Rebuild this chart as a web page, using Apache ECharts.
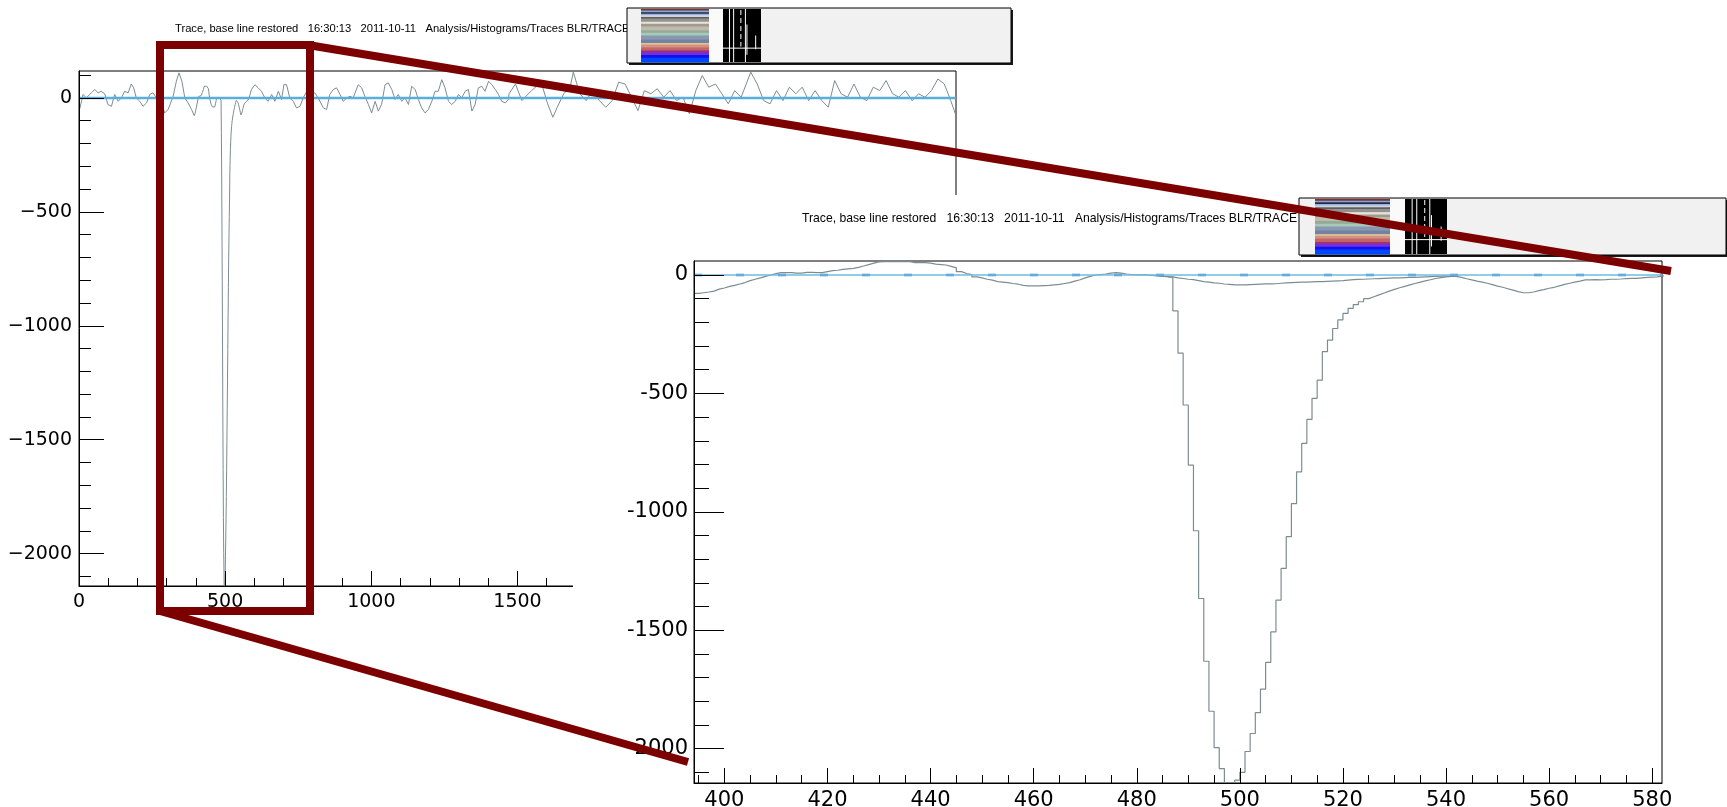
<!DOCTYPE html>
<html>
<head>
<meta charset="utf-8">
<title>Trace, base line restored</title>
<script src="https://cdn.jsdelivr.net/npm/echarts@6/dist/echarts.min.js"></script>
<style>
  html, body { margin: 0; padding: 0; background: #ffffff; }
  #chart { width: 1727px; height: 807px; }
</style>
</head>
<body>
<div id="chart"></div>
<script>
// ---- Trace samples (x = sample index, y = ADC counts after base line restoration) ----
// Overview samples before the magnified window
const traceBefore = [
  [2,-51],[14,15],[25,0],[42,22],[54,37],[65,22],[76,29],[88,18],[99,-29],[111,-37],
  [122,15],[134,-15],[145,0],[156,29],[168,22],[179,61],[187,44],[196,0],[208,-15],[219,-37],
  [231,-22],[242,15],[253,22],[265,0],[276,-15],[288,-44],[293,-66],[305,-51],[322,7],[333,73],
  [342,110],[352,73],[362,0],[373,-22],[385,-51]
];

// Bin-by-bin values inside the magnified window, starting at sample 394
const fineStart = 394;
const fineValues = [
  -78,-75,-72,-68,-60,-55,-48,-44,-38,-32,
  -24,-18,-12,-6,0,6,10,10,10,8,
  8,11,11,10,10,14,18,20,24,26,
  28,32,38,44,50,55,56,57,56,56,
  57,56,52,52,52,50,46,44,42,36,
  30,14,6,2,-8,-12,-18,-22,-28,-30,
  -32,-36,-39,-44,-46,-46,-46,-45,-44,-42,
  -40,-36,-32,-26,-20,-12,-6,0,2,4,
  8,10,8,4,2,0,0,0,-2,-4,
  -6,-7,-10,-152,-330,-549,-803,-1080,-1366,-1631,
  -1842,-1996,-2084,-2190,-2230,-2133,-2100,-2012,-1936,-1848,
  -1749,-1636,-1507,-1373,-1239,-1105,-965,-831,-711,-610,
  -521,-444,-324,-275,-226,-190,-162,-141,-125,-113,
  -100,-92,-84,-76,-68,-61,-54,-48,-42,-36,
  -30,-25,-20,-15,-11,-8,-6,-6,-10,-16,
  -21,-26,-30,-35,-41,-47,-52,-58,-64,-70,
  -75,-75,-72,-66,-62,-56,-52,-46,-40,-35,
  -30,-26,-21,-21,-20,-21,-20,-18,-18,-17,
  -15,-14,-14,-12,-10,-9,-8,-4,0
];

// Overview samples after the magnified window
const traceAfter = [
  [590,37],[602,58],[613,44],[624,29],[636,0],[647,-15],[659,15],[670,-15],[682,29],[693,-7],
  [701,58],[710,58],[721,0],[733,-15],[744,-44],[756,-37],[767,0],[779,29],[790,15],[807,22],
  [818,0],[836,-44],[847,-51],[858,15],[870,37],[881,44],[893,15],[904,-15],[916,0],[927,7],
  [938,0],[955,58],[967,44],[978,7],[990,-29],[1001,-66],[1013,-15],[1024,-58],[1035,-29],[1047,58],
  [1058,66],[1070,37],[1081,-7],[1092,15],[1104,-15],[1115,0],[1127,-29],[1138,51],[1150,37],[1161,-7],
  [1172,-44],[1184,-66],[1195,-51],[1207,-15],[1218,29],[1229,29],[1241,80],[1252,44],[1264,-15],[1275,-29],
  [1287,-15],[1298,15],[1309,0],[1321,29],[1332,37],[1344,-58],[1355,-29],[1366,44],[1378,51],[1389,29],
  [1401,73],[1412,58],[1424,37],[1435,15],[1446,-15],[1458,-22],[1469,-7],[1471,18],[1493,61],[1515,-12],
  [1548,32],[1581,69],[1603,-26],[1621,-85],[1636,-41],[1658,18],[1680,47],[1691,113],[1713,18],[1735,-12],
  [1757,32],[1780,-12],[1802,-41],[1824,-12],[1846,69],[1868,61],[1890,3],[1912,-56],[1934,32],[1956,18],
  [1978,40],[2000,3],[2022,32],[2044,-12],[2066,3],[2088,-70],[2110,32],[2132,98],[2154,47],[2177,61],
  [2199,18],[2221,-26],[2243,32],[2265,3],[2298,113],[2320,61],[2342,-12],[2364,-26],[2386,32],[2408,-12],
  [2430,47],[2452,18],[2474,47],[2496,-12],[2518,32],[2541,-12],[2563,-41],[2585,76],[2607,18],[2629,3],
  [2651,61],[2673,3],[2695,-12],[2717,47],[2739,32],[2761,76],[2783,18],[2805,3],[2827,32],[2850,-12],
  [2872,18],[2894,3],[2916,32],[2938,83],[2960,61],[2982,-12],[3000,-78]
];

// Restored base line underneath the pulse, starting at sample 486
const restoredStart = 486;
const restoredValues = [
  -8,-12,-15,-18,-20,-24,-28,-30,-33,-35,
  -38,-40,-42,-42,-42,-41,-40,-39,-38,-38,
  -37,-35,-33,-32,-31,-30,-30,-29,-28,-28,
  -27,-26,-25,-24,-22,-20,-19,-18,-17,-16,
  -15,-14,-13,-12,-12,-11,-10,-10,-9,-8,
  -7,-6,-5,-5,-5,-6
];

// Axis ranges and tick labels
const overviewX = { min: 0, max: 3000 };
const overviewY = { min: -2142, max: 118 };
const zoomX = { min: 394.1, max: 581.9 };
const zoomY = { min: -2145, max: 59 };
const overviewXLabels = [0, 500, 1000, 1500, 2000, 2500, 3000];
const overviewYLabels = [-2000, -1500, -1000, -500, 0];
const zoomXLabels = [400, 420, 440, 460, 480, 500, 520, 540, 560, 580];
const zoomYLabels = [-2000, -1500, -1000, -500, 0];

const titleText = 'Trace, base line restored   16:30:13   2011-10-11   Analysis/Histograms/Traces BLR/TRACE';

// ---- Build series data ----
const fineData = fineValues.map((v, i) => [fineStart + i, v]);
const traceData = traceBefore.concat(fineData, traceAfter);
const restoredData = restoredValues.map((v, i) => [restoredStart + i, v]);

function minorTicks(from, to, step, majors) {
  const out = [];
  for (let v = from; v <= to + 1e-9; v += step) {
    if (!majors.includes(v)) out.push(v);
  }
  return out;
}

const traceColor = '#7c8d92';
const axisFont = 'DejaVu Sans';
const plainNumber = v => String(v);
const minusNumber = v => (v < 0 ? '\u2212' + Math.abs(v) : String(v));

function xAxes(grid, range, majors, labels, minors, majLen, minLen, fontSize, zl) {
  return [
    {
      type: 'value', gridIndex: grid, position: 'bottom', min: range.min, max: range.max,
      zlevel: zl, z: 5,
      axisLine: { show: true, onZero: false, lineStyle: { color: '#000', width: 1 } },
      axisTick: { show: true, inside: true, length: majLen, customValues: majors, lineStyle: { color: '#000', width: 1 } },
      axisLabel: { show: true, customValues: labels, formatter: plainNumber, margin: 7, color: '#000', fontFamily: axisFont, fontSize: fontSize },
      splitLine: { show: false }
    },
    {
      type: 'value', gridIndex: grid, position: 'bottom', min: range.min, max: range.max,
      zlevel: zl, z: 5,
      axisLine: { show: false, onZero: false },
      axisTick: { show: true, inside: true, length: minLen, customValues: minors, lineStyle: { color: '#000', width: 1 } },
      axisLabel: { show: false },
      splitLine: { show: false }
    }
  ];
}

function yAxes(grid, range, majors, minors, majLen, minLen, fontSize, margin, fmt, zl) {
  return [
    {
      type: 'value', gridIndex: grid, position: 'left', min: range.min, max: range.max,
      zlevel: zl, z: 5,
      axisLine: { show: true, onZero: false, lineStyle: { color: '#000', width: 1 } },
      axisTick: { show: true, inside: true, length: majLen, customValues: majors, lineStyle: { color: '#000', width: 1 } },
      axisLabel: { show: true, customValues: majors, formatter: fmt, margin: margin, color: '#000', fontFamily: axisFont, fontSize: fontSize },
      splitLine: { show: false }
    },
    {
      type: 'value', gridIndex: grid, position: 'left', min: range.min, max: range.max,
      zlevel: zl, z: 5,
      axisLine: { show: false, onZero: false },
      axisTick: { show: true, inside: true, length: minLen, customValues: minors, lineStyle: { color: '#000', width: 1 } },
      axisLabel: { show: false },
      splitLine: { show: false }
    }
  ];
}

// ---- Statistics box (palette stripes + bar block) ----
const stripeColors = [
  [0.00, 0.03, '#8b2c2c'], [0.03, 0.06, '#7fa8d8'], [0.06, 0.09, '#1a2a48'], [0.09, 0.12, '#9ab0e8'],
  [0.12, 0.15, '#d4d4d4'], [0.15, 0.18, '#5e5e5e'], [0.18, 0.24, '#929292'], [0.24, 0.28, '#e8e4d8'],
  [0.28, 0.33, '#a09a90'], [0.33, 0.40, '#c2baa8'], [0.40, 0.45, '#92aa9a'], [0.45, 0.50, '#a8c8b8'],
  [0.50, 0.57, '#8898b0'], [0.57, 0.64, '#7282a2'], [0.64, 0.67, '#e0c890'], [0.67, 0.72, '#d89080'],
  [0.72, 0.78, '#c06868'], [0.78, 0.82, '#a03078'], [0.82, 0.87, '#7030e0'], [0.87, 0.92, '#1010f0'],
  [0.92, 1.00, '#0048ff']
];

function statsBox(x, y, w, h, sx0, sx1, bx0, bx1, zl) {
  const els = [];
  els.push({ type: 'rect', zlevel: zl, z: 20, shape: { x: x + 2, y: y + 2, width: w, height: h }, style: { fill: '#1a1a1a' } });
  els.push({ type: 'rect', zlevel: zl, z: 21, shape: { x: x, y: y, width: w, height: h }, style: { fill: '#f1f1f1', stroke: '#000', lineWidth: 1 } });
  els.push({ type: 'rect', zlevel: zl, z: 22, shape: { x: sx1, y: y + 1, width: bx0 - sx1, height: h - 2 }, style: { fill: '#fafafa' } });
  stripeColors.forEach(s => {
    els.push({ type: 'rect', zlevel: zl, z: 22,
      shape: { x: sx0, y: y + 1 + s[0] * (h - 2), width: sx1 - sx0, height: (s[1] - s[0]) * (h - 2) + 0.5 },
      style: { fill: s[2] } });
  });
  const bw = bx1 - bx0;
  els.push({ type: 'rect', zlevel: zl, z: 22, shape: { x: bx0, y: y + 1, width: bw, height: h - 2 }, style: { fill: '#000' } });
  [0.17, 0.28, 0.59].forEach(f => {
    els.push({ type: 'line', zlevel: zl, z: 23, shape: { x1: bx0 + f * bw, y1: y + 1, x2: bx0 + f * bw, y2: y + h - 1 }, style: { stroke: '#fff', lineWidth: 1 } });
  });
  els.push({ type: 'line', zlevel: zl, z: 23, shape: { x1: bx0 + 0.47 * bw, y1: y + 2, x2: bx0 + 0.47 * bw, y2: y + h * 0.7 }, style: { stroke: '#fff', lineWidth: 1, lineDash: [5, 3] } });
  els.push({ type: 'line', zlevel: zl, z: 23, shape: { x1: bx0 + 0.63 * bw, y1: y + h * 0.3, x2: bx0 + 0.63 * bw, y2: y + h * 0.85 }, style: { stroke: '#fff', lineWidth: 1 } });
  els.push({ type: 'line', zlevel: zl, z: 23, shape: { x1: bx0 + 0.86 * bw, y1: y + h * 0.5, x2: bx0 + 0.86 * bw, y2: y + h * 0.75 }, style: { stroke: '#fff', lineWidth: 1 } });
  els.push({ type: 'line', zlevel: zl, z: 23, shape: { x1: bx0, y1: y + h * 0.73, x2: bx1, y2: y + h * 0.73 }, style: { stroke: '#fff', lineWidth: 1 } });
  return els;
}

const redColor = '#7d0000';

const graphics = [].concat(
  [{ type: 'text', zlevel: 0, z: 10, style: { x: 175, y: 29, text: titleText, fill: '#000', font: '11.2px "Liberation Sans", Arial, sans-serif', verticalAlign: 'middle' } }],
  statsBox(627, 8, 384, 55, 641, 709, 723, 761, 0),
  // second pad canvas
  [{ type: 'rect', zlevel: 1, z: 0, shape: { x: 573, y: 195, width: 1154, height: 612 }, style: { fill: '#ffffff' } }],
  [{ type: 'text', zlevel: 2, z: 10, style: { x: 802, y: 219, text: titleText, fill: '#000', font: '12.2px "Liberation Sans", Arial, sans-serif', verticalAlign: 'middle' } }],
  statsBox(1299, 198, 427, 57, 1315, 1390, 1405, 1447, 2),
  // magnification marker
  [
    { type: 'rect', zlevel: 3, z: 30, shape: { x: 160, y: 45, width: 150, height: 566 }, style: { fill: 'none', stroke: redColor, lineWidth: 8 } },
    { type: 'line', zlevel: 3, z: 30, shape: { x1: 308, y1: 45, x2: 1671, y2: 271 }, style: { stroke: redColor, lineWidth: 8 } },
    { type: 'line', zlevel: 3, z: 30, shape: { x1: 160, y1: 611, x2: 688, y2: 762 }, style: { stroke: redColor, lineWidth: 8 } }
  ]
);

const option = {
  animation: false,
  backgroundColor: '#ffffff',
  grid: [
    { left: 79, top: 71, width: 877, height: 515, show: true, borderColor: '#000', borderWidth: 1, backgroundColor: 'transparent', zlevel: 0, outerBoundsMode: 'none' },
    { left: 694, top: 261, width: 968, height: 522, show: true, borderColor: '#000', borderWidth: 1, backgroundColor: 'transparent', zlevel: 2, outerBoundsMode: 'none' }
  ],
  xAxis: [].concat(
    xAxes(0, overviewX, overviewXLabels, overviewXLabels, minorTicks(0, 3000, 100, overviewXLabels), 15, 8, 19, 0),
    xAxes(1, zoomX, zoomXLabels, zoomXLabels, minorTicks(395, 580, 5, zoomXLabels), 15, 8, 21, 2)
  ),
  yAxis: [].concat(
    yAxes(0, overviewY, overviewYLabels, minorTicks(-2100, 100, 100, overviewYLabels), 25, 12, 19, 7, minusNumber, 0),
    yAxes(1, zoomY, zoomYLabels, minorTicks(-2100, 0, 100, zoomYLabels), 30, 15, 21, 6, plainNumber, 2)
  ),
  series: [
    { name: 'Trace', type: 'line', xAxisIndex: 0, yAxisIndex: 0, data: traceData, symbol: 'none', clip: true, silent: true,
      lineStyle: { color: traceColor, width: 1 }, zlevel: 0, z: 2 },
    { name: 'Base line', type: 'line', xAxisIndex: 0, yAxisIndex: 0, data: [[overviewX.min, 0], [overviewX.max, 0]], symbol: 'none', clip: true, silent: true,
      lineStyle: { color: '#5aaede', width: 2.5 }, zlevel: 0, z: 3 },
    { name: 'Trace', type: 'line', xAxisIndex: 2, yAxisIndex: 2, data: traceData, step: 'end', symbol: 'none', clip: true, silent: true,
      lineStyle: { color: traceColor, width: 1.2 }, zlevel: 2, z: 2 },
    { name: 'Restored base line', type: 'line', xAxisIndex: 2, yAxisIndex: 2, data: restoredData, step: 'end', symbol: 'none', clip: true, silent: true,
      lineStyle: { color: traceColor, width: 1.2 }, zlevel: 2, z: 2 },
    { name: 'Base line', type: 'line', xAxisIndex: 2, yAxisIndex: 2, data: [[zoomX.min, 0], [zoomX.max, 0]], symbol: 'none', clip: true, silent: true,
      lineStyle: { color: '#3f88c2', width: 2.4, type: [8, 34] }, zlevel: 2, z: 3 },
    { name: 'Base line', type: 'line', xAxisIndex: 2, yAxisIndex: 2, data: [[zoomX.min, 0], [zoomX.max, 0]], symbol: 'none', clip: true, silent: true,
      lineStyle: { color: '#6cbbe0', width: 1.6 }, zlevel: 2, z: 4 }
  ],
  graphic: graphics
};

const chart = echarts.init(document.getElementById('chart'), null, { renderer: 'canvas' });
chart.setOption(option);
</script>
</body>
</html>
